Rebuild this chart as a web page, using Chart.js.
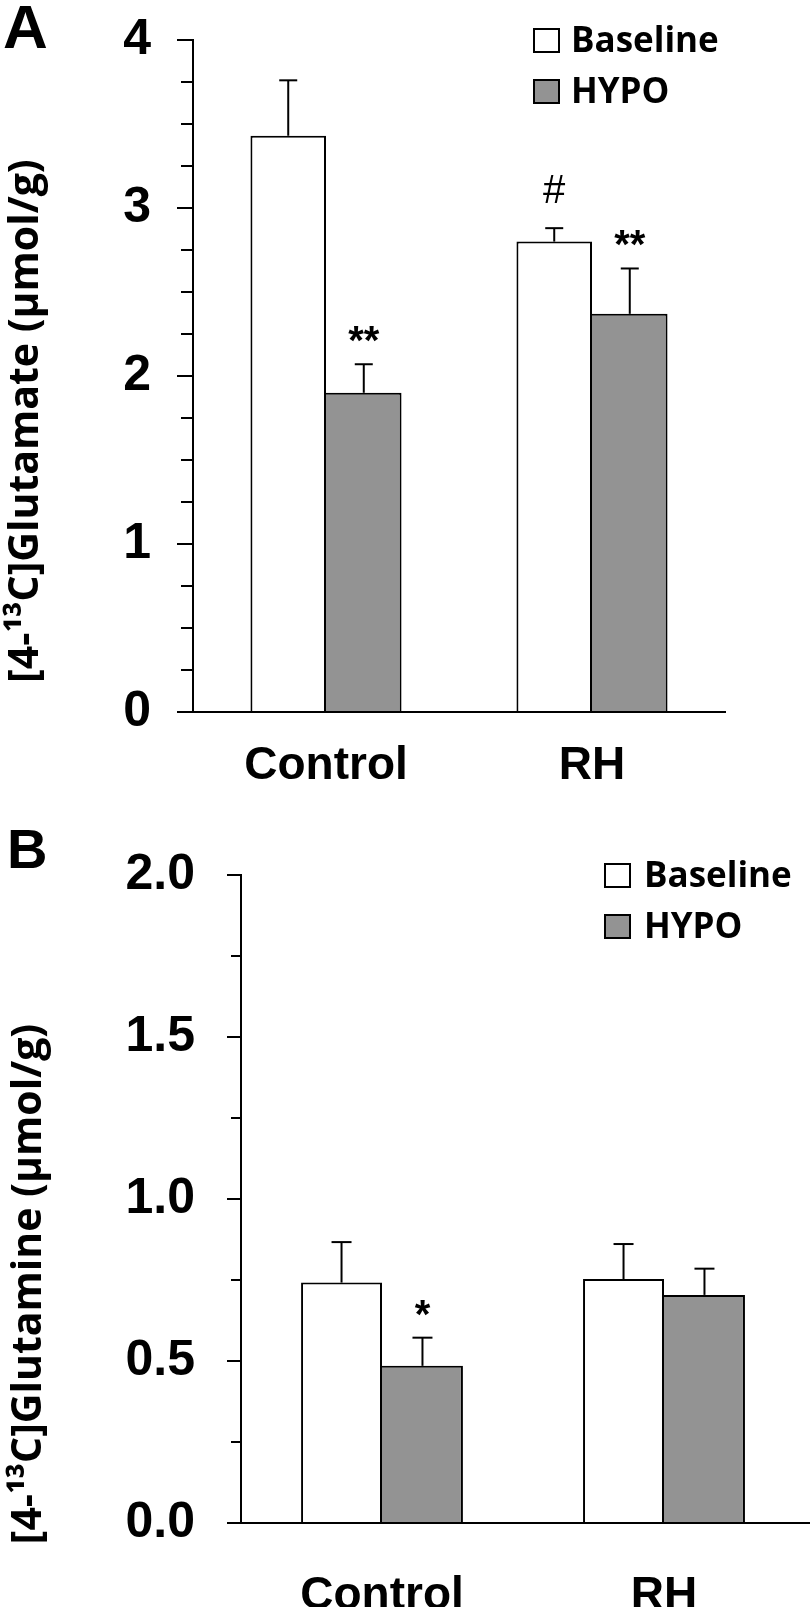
<!DOCTYPE html>
<html>
<head>
<meta charset="utf-8">
<script src="https://cdn.jsdelivr.net/npm/chart.js@4.4.0/dist/chart.umd.min.js"></script>
<style>
    body { margin: 0; background: #fff; width: 810px; height: 1607px; position: relative; overflow: hidden; }
    .panel { position: absolute; left: 0; width: 810px; }
    #panelA { top: 0; height: 800px; }
    #panelB { top: 800px; height: 807px; }
</style>
</head>
<body>
<div class="panel" id="panelA"><canvas id="chartA"></canvas></div>
<div class="panel" id="panelB"><canvas id="chartB"></canvas></div>
<script>
const groups = ['Control', 'RH'];
const seriesNames = ['Baseline', 'HYPO'];
const seriesColors = ['#ffffff', '#939393'];

// Panel A: [4-13C]Glutamate (umol/g), mean + SEM
const gluBaseline = [3.43, 2.80];
const gluBaselineSem = [0.33, 0.08];
const gluHypo = [1.90, 2.37];
const gluHypoSem = [0.17, 0.27];
const gluBaselineMarks = ['', '#'];
const gluHypoMarks = ['**', '**'];
const gluTicks = [0, 1, 2, 3, 4];

// Panel B: [4-13C]Glutamine (umol/g), mean + SEM
const glnBaseline = [0.742, 0.753];
const glnBaselineSem = [0.125, 0.108];
const glnHypo = [0.485, 0.704];
const glnHypoSem = [0.087, 0.081];
const glnBaselineMarks = ['', ''];
const glnHypoMarks = ['*', ''];
const glnTicks = [0, 0.5, 1.0, 1.5, 2.0];

const ARIAL = '"Liberation Sans", Arial, sans-serif';
const SANS = '"Open Sans", sans-serif';

function isMajor(value, majors) {
    return majors.some(m => Math.abs(m - value) < 1e-6);
}

function line(ctx, x1, y1, x2, y2) {
    ctx.beginPath();
    ctx.moveTo(x1, y1);
    ctx.lineTo(x2, y2);
    ctx.stroke();
}

function extrasPlugin(p) {
    return {
        id: 'extras',
        afterDatasetsDraw(chart) {
            const { ctx, scales: { y } } = chart;
            ctx.save();
            ctx.strokeStyle = '#000';
            ctx.lineWidth = 2;
            chart.data.datasets.forEach((ds, d) => {
                const meta = chart.getDatasetMeta(d);
                meta.data.forEach((bar, i) => {
                    const top = y.getPixelForValue(ds.data[i] + ds.sem[i]);
                    line(ctx, bar.x, bar.y, bar.x, top);
                    line(ctx, bar.x - p.cap / 2, top, bar.x + p.cap / 2, top);
                    const mark = ds.marks[i];
                    if (mark) {
                        ctx.fillStyle = '#000';
                        ctx.textAlign = 'center';
                        ctx.textBaseline = 'alphabetic';
                        if (mark === '#') {
                            ctx.font = `40px ${ARIAL}`;
                            ctx.fillText(mark, bar.x, top - 25);
                        } else {
                            ctx.font = `bold 40px ${ARIAL}`;
                            ctx.fillText(mark, bar.x, top - 10);
                        }
                    }
                });
            });
            ctx.restore();
        },
        afterDraw(chart) {
            const { ctx, chartArea, scales: { y } } = chart;
            ctx.save();
            ctx.strokeStyle = '#000';
            ctx.lineWidth = 2;

            // y tick marks, long for labelled ticks
            y.ticks.forEach(t => {
                const py = Math.round(y.getPixelForValue(t.value));
                const len = isMajor(t.value, p.majors) ? p.majorLen : p.minorLen;
                line(ctx, chartArea.left - len, py, chartArea.left, py);
            });

            // x axis line, running from the tick start
            const by = Math.round(chartArea.bottom);
            line(ctx, chartArea.left - p.majorLen, by, chartArea.right + p.extendRight, by);

            // legend
            chart.data.datasets.forEach((ds, d) => {
                const top = p.legendY + d * 51;
                ctx.fillStyle = ds.backgroundColor;
                ctx.fillRect(p.legendX, top, 25, 23);
                ctx.strokeRect(p.legendX, top, 25, 23);
                ctx.fillStyle = '#000';
                ctx.font = `bold 35px ${SANS}`;
                ctx.textAlign = 'left';
                ctx.textBaseline = 'alphabetic';
                ctx.fillText(ds.label, p.legendX + p.legendGap, top + 23);
            });

            // y title
            ctx.save();
            ctx.translate(p.titleX, p.titleY);
            ctx.rotate(-Math.PI / 2);
            ctx.font = `bold 41px ${SANS}`;
            ctx.textAlign = 'center';
            ctx.textBaseline = 'middle';
            ctx.fillStyle = '#000';
            ctx.fillText(p.title, 0, 0);
            ctx.restore();

            // panel letter
            ctx.font = `bold ${p.letterSize}px ${ARIAL}`;
            ctx.textAlign = 'left';
            ctx.textBaseline = 'alphabetic';
            ctx.fillStyle = '#000';
            ctx.fillText(p.letter, p.letterX, p.letterY);
            ctx.restore();
        }
    };
}

function makePanel(id, p) {
    const borders = [
        { top: 2, left: 2, right: 2, bottom: 0 },
        { top: 2, left: 0, right: 2, bottom: 0 }
    ];
    const data = [p.base, p.hypo];
    const sems = [p.baseSem, p.hypoSem];
    const marks = [p.baseMarks, p.hypoMarks];

    return new Chart(document.getElementById(id), {
        type: 'bar',
        data: {
            labels: groups,
            datasets: seriesNames.map((name, d) => ({
                label: name,
                data: data[d],
                sem: sems[d],
                marks: marks[d],
                backgroundColor: seriesColors[d],
                borderColor: '#000',
                borderWidth: borders[d],
                categoryPercentage: p.catPct,
                barPercentage: 1
            }))
        },
        options: {
            responsive: true,
            maintainAspectRatio: false,
            animation: false,
            events: [],
            layout: { padding: { left: 0, top: p.top, right: p.right, bottom: 0 } },
            plugins: { legend: { display: false }, tooltip: { enabled: false } },
            scales: {
                x: {
                    grid: { display: false, drawTicks: false },
                    border: { display: false },
                    ticks: {
                        color: '#000',
                        padding: p.xPad,
                        font: { family: ARIAL, size: 46, weight: 'bold' }
                    },
                    afterFit: s => {
                        s.height = p.xHeight;
                        s.paddingLeft = 0;
                        s.paddingRight = 0;
                    }
                },
                y: {
                    min: 0,
                    max: p.max,
                    grid: { display: false, tickLength: p.majorLen },
                    border: { display: true, color: '#000', width: 2 },
                    ticks: {
                        stepSize: 0.25,
                        autoSkip: false,
                        color: '#000',
                        padding: p.tickPad,
                        font: { family: ARIAL, size: p.tickSize, weight: 'bold' },
                        callback: v => isMajor(v, p.majors) ? v.toFixed(p.decimals) : ''
                    },
                    afterFit: s => {
                        s.width = p.axisX;
                        s.paddingTop = 0;
                        s.paddingBottom = 0;
                    }
                }
            }
        },
        plugins: [extrasPlugin(p)]
    });
}

makePanel('chartA', {
    base: gluBaseline, baseSem: gluBaselineSem, baseMarks: gluBaselineMarks,
    hypo: gluHypo, hypoSem: gluHypoSem, hypoMarks: gluHypoMarks,
    majors: gluTicks, max: 4, decimals: 0,
    top: 40, right: 85, axisX: 193, xHeight: 88, xPad: 27,
    majorLen: 16, minorLen: 12, tickPad: 26, tickSize: 50,
    catPct: 0.568, cap: 18, extendRight: 1,
    legendX: 534, legendY: 29, legendGap: 37,
    title: '[4-\u00b9\u00b3C]Glutamate (\u00b5mol/g)', titleX: 26, titleY: 421,
    letter: 'A', letterX: 3, letterY: 48, letterSize: 62
});

makePanel('chartB', {
    base: glnBaseline, baseSem: glnBaselineSem, baseMarks: glnBaselineMarks,
    hypo: glnHypo, hypoSem: glnHypoSem, hypoMarks: glnHypoMarks,
    majors: glnTicks, max: 2, decimals: 1,
    top: 75, right: 5, axisX: 241, xHeight: 84, xPad: 46,
    majorLen: 14, minorLen: 10, tickPad: 32, tickSize: 50,
    catPct: 0.574, cap: 20, extendRight: 10,
    legendX: 605, legendY: 64, legendGap: 39,
    title: '[4-\u00b9\u00b3C]Glutamine (\u00b5mol/g)', titleX: 29, titleY: 484,
    letter: 'B', letterX: 7, letterY: 68, letterSize: 56
});
</script>
</body>
</html>
